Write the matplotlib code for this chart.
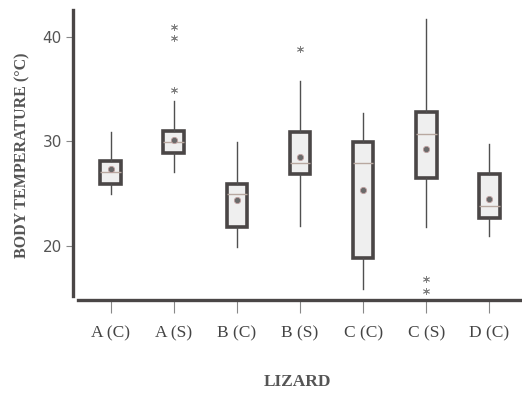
import matplotlib
matplotlib.use("Agg")
import matplotlib.pyplot as plt

# ----------------------------------------------------------------------
# Data (body temperature, deg C)
# ----------------------------------------------------------------------
lizards = ["A (C)", "A (S)", "B (C)", "B (S)", "C (C)", "C (S)", "D (C)"]
whisker_low = [25.0, 27.1, 19.9, 21.9, 15.9, 21.8, 20.9]
q1 = [25.9, 28.9, 21.8, 26.9, 18.8, 26.5, 22.7]
medians = [27.1, 29.9, 25.0, 27.9, 27.9, 30.7, 23.8]
q3 = [28.1, 31.0, 25.9, 30.9, 29.9, 32.8, 26.9]
whisker_high = [30.9, 33.9, 29.9, 35.8, 32.7, 41.7, 29.8]
means = [27.4, 30.1, 24.4, 28.5, 25.3, 29.3, 24.5]
outliers = [[], [34.9, 39.9, 41.0], [], [38.9], [], [16.8, 15.7], []]

stats = []
for i, name in enumerate(lizards):
    stats.append({
        "label": name,
        "whislo": whisker_low[i], "q1": q1[i], "med": medians[i],
        "q3": q3[i], "whishi": whisker_high[i], "mean": means[i],
        "fliers": outliers[i],
    })

# ----------------------------------------------------------------------
# Figure
# ----------------------------------------------------------------------
fig = plt.figure(figsize=(5.22, 3.94), dpi=100)
ax = fig.add_axes([0.1398, 0.2386, 0.8602, 0.736])

edge = "#4a4646"
ax.bxp(
    stats, positions=range(len(lizards)), widths=0.33, patch_artist=True,
    showmeans=True, showcaps=False,
    boxprops=dict(facecolor="#efefef", edgecolor=edge, linewidth=2.6),
    whiskerprops=dict(color="#505050", linewidth=1.0),
    medianprops=dict(color="#b8a8a0", linewidth=1.0),
    meanprops=dict(marker="o", markersize=4.5, markerfacecolor="#6a6a6a",
                   markeredgecolor="#c0a0a0", markeredgewidth=0.6),
    flierprops=dict(marker=(6, 2, 0), markersize=5,
                    markeredgecolor="#808080", markeredgewidth=0.6),
)

ax.set_xlim(-0.6, 6.52)
ax.set_ylim(14.8, 42.6)

for s in ["top", "right"]:
    ax.spines[s].set_visible(False)
ax.spines["left"].set_color(edge)
ax.spines["left"].set_linewidth(2.4)
ax.spines["left"].set_bounds(15.2, 42.6)
ax.spines["bottom"].set_color(edge)
ax.spines["bottom"].set_linewidth(2.4)
ax.spines["bottom"].set_bounds(-0.52, 6.52)

ax.set_yticks([20, 30, 40])
ax.tick_params(axis="y", colors="#888888", length=5, width=0.8,
               labelsize=11, labelcolor="#555555", pad=3)
ax.set_xticks(range(len(lizards)))
ax.set_xticklabels(lizards, family="Liberation Serif", fontsize=12.5,
                   color="#444444")
ax.tick_params(axis="x", colors="#888888", length=9, width=0.8,
               labelcolor="#444444", pad=9)

ax.set_ylabel("BODY TEMPERATURE (°C)", family="Liberation Serif",
              fontweight="bold", fontsize=11.5, color="#555555", labelpad=9)
ax.set_xlabel("LIZARD", family="Liberation Serif", fontweight="bold",
              fontsize=12.5, color="#555555", labelpad=24)

fig.savefig("out.png", dpi=100)
plt.close(fig)
